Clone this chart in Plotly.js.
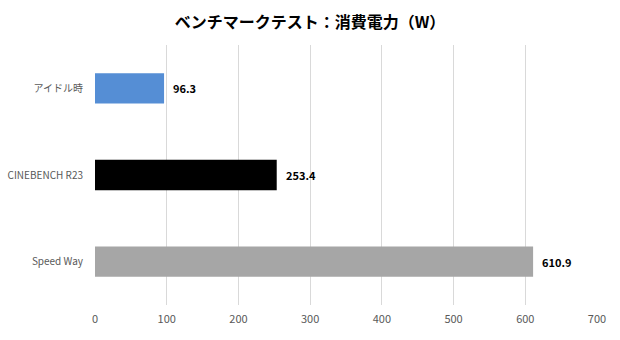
<!DOCTYPE html>
<html><head><meta charset="utf-8">
<script src="https://cdn.plot.ly/plotly-3.0.1.min.js"></script>
<style>html,body{margin:0;padding:0;background:#fff}#c{width:620px;height:340px}</style>
</head><body><div id="c"></div>
<script>
const categories = ["アイドル時", "CINEBENCH R23", "Speed Way"];
const values = [96.3, 253.4, 610.9];
const colors = ["#558ED5", "#000000", "#A6A6A6"];
const xTicks = [0, 100, 200, 300, 400, 500, 600, 700];

const font = "'Noto Sans CJK JP', 'Noto Sans', sans-serif";

const trace = {
  type: "bar", orientation: "h",
  x: values, y: categories,
  marker: {color: colors},
  width: 0.35,
  hoverinfo: "none"
};

const annotations = values.map((v, i) => ({
  x: v, y: categories[i], xref: "x", yref: "y",
  text: "<b>" + v.toFixed(1) + "</b>",
  showarrow: false, xanchor: "left", xshift: 7,
  font: {family: font, size: 11, color: "#000"}
}));

const layout = {
  width: 620, height: 340,
  margin: {l: 95, r: 23, t: 45, b: 35},
  paper_bgcolor: "#fff", plot_bgcolor: "#fff",
  title: {text: "<b>ベンチマークテスト：消費電力（W）</b>", x: 0.5, xanchor: "center", y: 0.935, yanchor: "middle",
          font: {family: font, size: 16, color: "#000"}},
  xaxis: {range: [0, 700], tickvals: xTicks, ticktext: xTicks.map(String),
          showgrid: true, gridcolor: "#D9D9D9", gridwidth: 1, zeroline: false,
          showline: false, ticks: "", ticklabelstandoff: 6,
          tickfont: {family: font, size: 11, color: "#595959"}},
  yaxis: {autorange: "reversed", showgrid: false, zeroline: false, showline: false,
          ticks: "", ticklabelstandoff: 11,
          tickfont: {family: font, size: 10, color: "#595959"}},
  annotations: annotations,
  showlegend: false
};

Plotly.newPlot("c", [trace], layout, {displayModeBar: false, staticPlot: true});
</script></body></html>
